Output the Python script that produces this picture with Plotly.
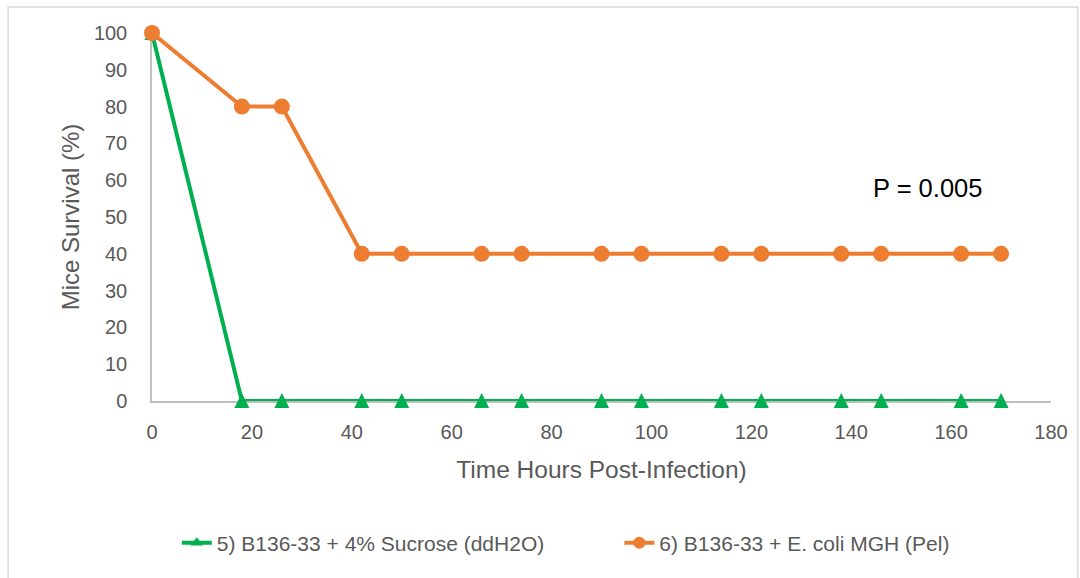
import plotly.graph_objects as go

hours = [0, 18, 26, 42, 50, 66, 74, 90, 98, 114, 122, 138, 146, 162, 170]
sucrose = [100, 0, 0, 0, 0, 0, 0, 0, 0, 0, 0, 0, 0, 0, 0]
ecoli = [100, 80, 80, 40, 40, 40, 40, 40, 40, 40, 40, 40, 40, 40, 40]
name_sucrose = "5) B136-33 + 4% Sucrose (ddH2O)"
name_ecoli = "6) B136-33 + E. coli MGH (Pel)"
x_ticks = [0, 20, 40, 60, 80, 100, 120, 140, 160, 180]
y_ticks = [0, 10, 20, 30, 40, 50, 60, 70, 80, 90, 100]

GREEN = "#00B050"
ORANGE = "#ED7D31"
FONT = "Liberation Sans"
GREY = "#595959"

# plot area in px
L, R, T, B = 152, 1058, 33, 401
W, H = 1080, 578


def px(xp):
    return (xp - L) / (R - L)


def py(yp):
    return (B - yp) / (B - T)


fig = go.Figure()
fig.add_trace(go.Scatter(
    x=hours, y=sucrose, name=name_sucrose, mode="lines+markers",
    line=dict(color=GREEN, width=4),
    # upward triangle, 15px wide and tall, roughly centred on the point
    marker=dict(symbol="arrow-down", angle=180, standoff=8, size=15, color=GREEN),
    cliponaxis=False, showlegend=False,
))
fig.add_trace(go.Scatter(
    x=hours, y=ecoli, name=name_ecoli, mode="lines+markers",
    line=dict(color=ORANGE, width=4),
    marker=dict(symbol="circle", size=16, color=ORANGE),
    cliponaxis=False, showlegend=False,
))

# legend keys (smaller markers, as in the reference legend)
fig.add_trace(go.Scatter(
    x=[None], y=[None], name=name_sucrose, mode="lines+markers",
    line=dict(color=GREEN, width=4),
    marker=dict(symbol="triangle-up", size=11, color=GREEN),
    legend="legend",
))
fig.add_trace(go.Scatter(
    x=[None], y=[None], name=name_ecoli, mode="lines+markers",
    line=dict(color=ORANGE, width=4),
    marker=dict(symbol="circle", size=12, color=ORANGE),
    legend="legend2",
))

fig.add_annotation(
    x=155.2, y=57.9, xref="x", yref="y", text="P = 0.005", showarrow=False,
    font=dict(family=FONT, size=25.5, color="#000000"),
)

# chart border (top and left visible)
fig.add_shape(type="rect", xref="paper", yref="paper",
              x0=px(7), x1=px(1085), y0=py(7), y1=py(585),
              line=dict(color="#D9D9D9", width=1.5), layer="below")

fig.update_layout(
    width=W, height=H,
    margin=dict(l=L, r=W - R, t=T, b=H - B, pad=0),
    paper_bgcolor="white", plot_bgcolor="white",
    font=dict(family=FONT, color=GREY, size=20),
    xaxis=dict(
        range=[0, 180], tickvals=x_ticks, showgrid=False, zeroline=False,
        showline=True, linecolor="#BFBFBF", linewidth=1.5, layer="below traces",
        ticks="", ticklabelstandoff=12,
        tickfont=dict(family=FONT, size=20, color=GREY),
        title=dict(text="Time Hours Post-Infection)", standoff=19,
                   font=dict(family=FONT, size=24.5, color=GREY)),
    ),
    yaxis=dict(
        range=[0, 100], tickvals=y_ticks, showgrid=False, zeroline=False,
        showline=True, linecolor="#BFBFBF", linewidth=1.5, layer="below traces",
        ticks="", ticklabelstandoff=19,
        tickfont=dict(family=FONT, size=20, color=GREY),
        title=dict(text="Mice Survival (%)", standoff=7,
                   font=dict(family=FONT, size=24, color=GREY)),
    ),
    legend=dict(orientation="h", x=px(177), y=py(543), xanchor="left", yanchor="middle",
                font=dict(family=FONT, size=21, color=GREY), bgcolor="rgba(0,0,0,0)"),
    legend2=dict(orientation="h", x=px(623), y=py(543), xanchor="left", yanchor="middle",
                 font=dict(family=FONT, size=21, color=GREY), bgcolor="rgba(0,0,0,0)"),
    showlegend=True,
)

fig.write_html("out.html")
